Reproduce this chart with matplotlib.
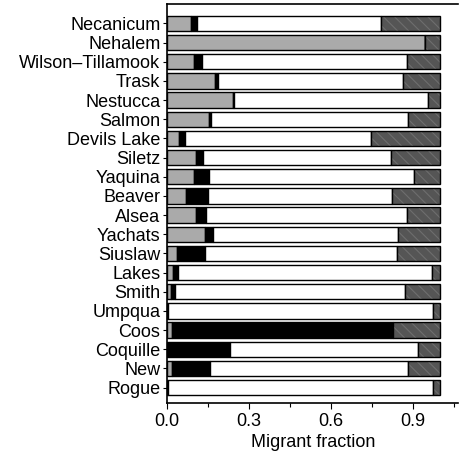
import matplotlib
matplotlib.use("Agg")
import matplotlib.pyplot as plt
import numpy as np
from matplotlib.ticker import MultipleLocator

rivers = ["Necanicum", "Nehalem", "Wilson\u2013Tillamook", "Trask", "Nestucca",
          "Salmon", "Devils Lake", "Siletz", "Yaquina", "Beaver", "Alsea",
          "Yachats", "Siuslaw", "Lakes", "Smith", "Umpqua", "Coos", "Coquille",
          "New", "Rogue"]
# segment fractions (left to right)
gray_frac = [0.086, 0.944, 0.098, 0.176, 0.242, 0.154, 0.044, 0.104, 0.098, 0.067,
             0.106, 0.137, 0.034, 0.022, 0.014, 0.003, 0.016, 0.000, 0.016, 0.003]
black_frac = [0.024, 0.000, 0.028, 0.011, 0.003, 0.006, 0.022, 0.028, 0.056, 0.083,
              0.037, 0.030, 0.105, 0.018, 0.014, 0.000, 0.810, 0.231, 0.141, 0.000]
white_frac = [0.674, 0.000, 0.751, 0.676, 0.711, 0.720, 0.679, 0.688, 0.750, 0.674,
              0.733, 0.679, 0.701, 0.928, 0.843, 0.969, 0.000, 0.688, 0.725, 0.971]
hatch_frac = [1 - g - b - w for g, b, w in zip(gray_frac, black_frac, white_frac)]

plt.rcParams['font.family'] = ['Liberation Sans', 'DejaVu Sans']
plt.rcParams['hatch.linewidth'] = 0.8

fig = plt.figure(figsize=(4.6, 4.61), dpi=100)
ax = fig.add_axes([0.3637, 0.126, 0.6323, 0.866])

y = np.arange(len(rivers))
h = 0.8
left = np.zeros(len(rivers))
for vals, fc in [(gray_frac, '#aaaaaa'), (black_frac, '#000000'), (white_frac, '#ffffff')]:
    ax.barh(y, vals, left=left, height=h, color=fc, edgecolor='black', linewidth=1.0)
    left = left + np.array(vals)
ax.barh(y, hatch_frac, left=left, height=h, color='#555555', edgecolor='#6e6e6e',
        linewidth=0, hatch='\\\\\\')
ax.barh(y, hatch_frac, left=left, height=h, fill=False, edgecolor='black', linewidth=1.0)

ax.set_yticks(y)
ax.set_yticklabels(rivers, fontsize=13)
ax.set_ylim(19.8, -1.03)
ax.set_xlim(0, 1.065)
ax.xaxis.set_major_locator(MultipleLocator(0.3))
ax.xaxis.set_minor_locator(MultipleLocator(0.15))
ax.set_xticks([0.0, 0.3, 0.6, 0.9])
ax.set_xticklabels(["0.0", "0.3", "0.6", "0.9"], fontsize=13)
ax.set_xlabel("Migrant fraction", fontsize=13, labelpad=3)
ax.tick_params(axis='x', which='major', length=4, width=0.8, direction='out', pad=3)
ax.tick_params(axis='x', which='minor', length=3, width=0.8, direction='out')
ax.tick_params(axis='y', length=3, width=0.8, pad=2)
ax.spines['right'].set_visible(False)
for s in ['left', 'top', 'bottom']:
    ax.spines[s].set_linewidth(1.2)

fig.savefig("out.png", dpi=100)
